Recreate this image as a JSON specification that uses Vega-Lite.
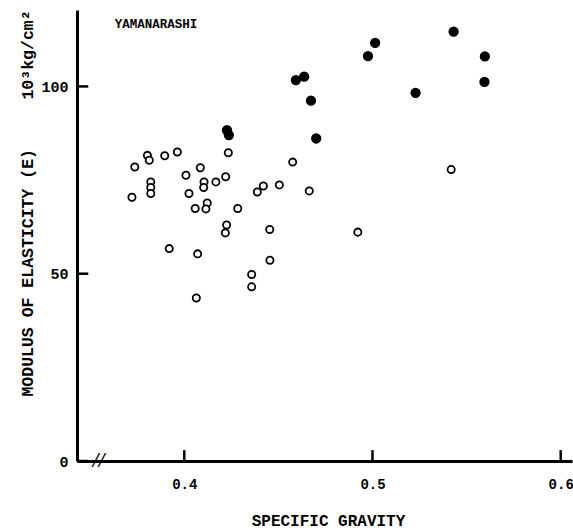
{
  "$schema": "https://vega.github.io/schema/vega-lite/v6.json",
  "width": 495,
  "height": 451,
  "autosize": "none",
  "padding": {"left": 77, "top": 10, "right": 1, "bottom": 71},
  "background": "white",
  "config": {"view": {"stroke": null}, "font": "Liberation Mono"},
  "datasets": {
    "pts": [
      {"sg": 0.4227, "e": 88.3, "group": "filled"},
      {"sg": 0.4237, "e": 87.0, "group": "filled"},
      {"sg": 0.4701, "e": 86.1, "group": "filled"},
      {"sg": 0.4593, "e": 101.7, "group": "filled"},
      {"sg": 0.4637, "e": 102.6, "group": "filled"},
      {"sg": 0.4673, "e": 96.2, "group": "filled"},
      {"sg": 0.5014, "e": 111.6, "group": "filled"},
      {"sg": 0.4976, "e": 108.1, "group": "filled"},
      {"sg": 0.5431, "e": 114.6, "group": "filled"},
      {"sg": 0.5597, "e": 108.0, "group": "filled"},
      {"sg": 0.5595, "e": 101.2, "group": "filled"},
      {"sg": 0.5229, "e": 98.3, "group": "filled"},
      {"sg": 0.3737, "e": 78.5, "group": "open"},
      {"sg": 0.3804, "e": 81.6, "group": "open"},
      {"sg": 0.3814, "e": 80.3, "group": "open"},
      {"sg": 0.3896, "e": 81.5, "group": "open"},
      {"sg": 0.3963, "e": 82.5, "group": "open"},
      {"sg": 0.4234, "e": 82.3, "group": "open"},
      {"sg": 0.4085, "e": 78.3, "group": "open"},
      {"sg": 0.4009, "e": 76.3, "group": "open"},
      {"sg": 0.3822, "e": 74.5, "group": "open"},
      {"sg": 0.3822, "e": 73.0, "group": "open"},
      {"sg": 0.3822, "e": 71.4, "group": "open"},
      {"sg": 0.3722, "e": 70.4, "group": "open"},
      {"sg": 0.4105, "e": 74.5, "group": "open"},
      {"sg": 0.4103, "e": 73.0, "group": "open"},
      {"sg": 0.4168, "e": 74.5, "group": "open"},
      {"sg": 0.4220, "e": 75.9, "group": "open"},
      {"sg": 0.4025, "e": 71.4, "group": "open"},
      {"sg": 0.4576, "e": 79.8, "group": "open"},
      {"sg": 0.4420, "e": 73.4, "group": "open"},
      {"sg": 0.4388, "e": 71.8, "group": "open"},
      {"sg": 0.4505, "e": 73.7, "group": "open"},
      {"sg": 0.4664, "e": 72.1, "group": "open"},
      {"sg": 0.4122, "e": 68.9, "group": "open"},
      {"sg": 0.4115, "e": 67.3, "group": "open"},
      {"sg": 0.4058, "e": 67.4, "group": "open"},
      {"sg": 0.4284, "e": 67.4, "group": "open"},
      {"sg": 0.4225, "e": 63.0, "group": "open"},
      {"sg": 0.4218, "e": 60.9, "group": "open"},
      {"sg": 0.4454, "e": 61.8, "group": "open"},
      {"sg": 0.3920, "e": 56.7, "group": "open"},
      {"sg": 0.4071, "e": 55.3, "group": "open"},
      {"sg": 0.4455, "e": 53.6, "group": "open"},
      {"sg": 0.4358, "e": 49.8, "group": "open"},
      {"sg": 0.4358, "e": 46.5, "group": "open"},
      {"sg": 0.4064, "e": 43.5, "group": "open"},
      {"sg": 0.5418, "e": 77.8, "group": "open"},
      {"sg": 0.4922, "e": 61.1, "group": "open"}
    ],
    "xticks": [{"v": 0.4}, {"v": 0.5}, {"v": 0.6}],
    "yticks": [{"v": 0}, {"v": 50}, {"v": 100}]
  },
  "layer": [
    {
      "data": {"name": "pts"},
      "mark": {"type": "point", "shape": "circle", "filled": true, "stroke": "black", "strokeWidth": 1.8, "opacity": 1},
      "encoding": {
        "x": {
          "field": "sg", "type": "quantitative",
          "scale": {"domain": [0.343, 0.606], "nice": false, "zero": false},
          "axis": {
            "orient": "bottom",
            "title": "SPECIFIC GRAVITY",
            "values": [0.4, 0.5, 0.6],
            "format": ".1f",
            "grid": false,
            "ticks": false,
            "domainColor": "black", "domainWidth": 3,
            "labelFont": "Liberation Mono", "labelFontWeight": "bold", "labelFontSize": 14, "labelColor": "black",
            "labelPadding": 16,
            "titleFont": "Liberation Mono", "titleFontWeight": "bold", "titleFontSize": 16, "titleColor": "black",
            "titleX": 251, "titleY": 64, "titleBaseline": "alphabetic"
          }
        },
        "y": {
          "field": "e", "type": "quantitative",
          "scale": {"domain": [0, 120.4], "nice": false},
          "axis": {
            "orient": "left",
            "title": "MODULUS OF ELASTICITY (E)\u00a0\u00a0\u00a0\u00a0\u00a010³kg/cm²",
            "values": [0, 50, 100],
            "grid": false,
            "ticks": false,
            "domainColor": "black", "domainWidth": 3,
            "labelFont": "Liberation Mono", "labelFontWeight": "bold", "labelFontSize": 15, "labelColor": "black",
            "labelPadding": 9,
            "titleFont": "Liberation Mono", "titleFontWeight": "bold", "titleFontSize": 16.5, "titleColor": "black",
            "titleAnchor": "middle", "titleX": -45, "titleY": 193, "titleBaseline": "alphabetic"
          }
        },
        "fill": {
          "field": "group", "type": "nominal",
          "scale": {"domain": ["filled", "open"], "range": ["black", "white"]},
          "legend": null
        },
        "size": {
          "field": "group", "type": "nominal",
          "scale": {"domain": ["filled", "open"], "range": [72, 52]},
          "legend": null
        }
      }
    },
    {
      "data": {"name": "xticks"},
      "mark": {"type": "rule", "color": "black", "strokeWidth": 2.5},
      "encoding": {
        "x": {"field": "v", "type": "quantitative"},
        "y": {"datum": 0, "type": "quantitative"},
        "y2": {"datum": 2.9}
      }
    },
    {
      "data": {"name": "yticks"},
      "mark": {"type": "rule", "color": "black", "strokeWidth": 2.5},
      "encoding": {
        "y": {"field": "v", "type": "quantitative"},
        "x": {"datum": 0.343, "type": "quantitative"},
        "x2": {"datum": 0.349}
      }
    },
    {
      "data": {"values": [{}]},
      "mark": {"type": "text", "text": "YAMANARASHI", "font": "Liberation Mono", "fontWeight": "bold", "fontSize": 12.5, "align": "left", "baseline": "alphabetic", "color": "black"},
      "encoding": {
        "x": {"datum": 0.363, "type": "quantitative"},
        "y": {"datum": 115.6, "type": "quantitative"}
      }
    },
    {
      "data": {"values": [{}]},
      "mark": {"type": "text", "text": "//", "font": "Liberation Serif", "fontStyle": "italic", "fontWeight": "bold", "fontSize": 21, "align": "center", "baseline": "middle", "color": "black"},
      "encoding": {
        "x": {"datum": 0.3545, "type": "quantitative"},
        "y": {"datum": 0, "type": "quantitative"}
      }
    }
  ]
}
